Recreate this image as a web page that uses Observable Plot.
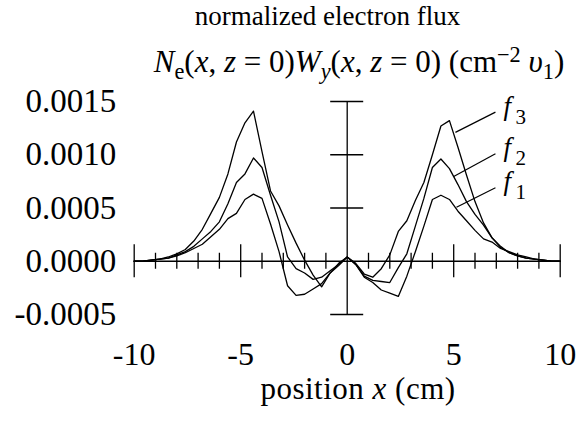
<!DOCTYPE html>
<html><head><meta charset="utf-8">
<script src="https://cdn.jsdelivr.net/npm/d3@7"></script>
<script src="https://cdn.jsdelivr.net/npm/@observablehq/plot@0.6"></script>
<style>
body{margin:0;background:#fff;}
#wrap{position:relative;width:578px;height:421px;font-family:"Liberation Serif","Times New Roman",serif;color:#000;}
#chart{position:absolute;left:0;top:0;}
.t{position:absolute;text-align:center;white-space:nowrap;line-height:1;}
.t sub{font-size:0.72em;vertical-align:baseline;position:relative;top:0.32em;}
.t sup{font-size:0.72em;vertical-align:baseline;position:relative;top:-0.45em;}
</style></head><body>
<div id="wrap">
<div id="chart"></div>
<div class="t" style="left:0;width:655px;top:3px;font-size:27px;">normalized electron flux</div>
<div class="t" style="left:0;width:718px;top:46px;font-size:31px;"><i>N</i><sub>e</sub>(<i>x</i>, <i>z</i> = 0)<i>W</i><sub><i>y</i></sub>(<i>x</i>, <i>z</i> = 0) (cm<sup>−2</sup> <i>υ</i><sub>1</sub>)</div>
<div class="t" style="left:0;width:716px;top:373px;font-size:31px;letter-spacing:0.5px;">position <i>x</i> (cm)</div>
</div>
<script>
// positions along x (cm)
const xs = [-10,-9.6,-9.2,-8.8,-8.4,-8.0,-7.6,-7.2,-6.8,-6.4,-6.0,-5.6,-5.2,-4.8,-4.4,-4.0,-3.6,-3.2,-2.8,-2.4,-2.0,-1.6,-1.2,-0.8,-0.4,0,0.4,0.8,1.2,1.6,2.0,2.4,2.8,3.2,3.6,4.0,4.4,4.8,5.2,5.6,6.0,6.4,6.8,7.2,7.6,8.0,8.4,8.8,9.2,9.6,10];
const f3 = [0,0,0.00001,0.00002,0.00004,0.00007,0.00011,0.00019,0.00030,0.00045,0.00060,0.00082,0.00112,0.00130,0.00141,0.00103,0.00066,0.00052,0.00034,0.00017,0.00001,-0.00013,-0.00024,-0.00011,-0.00002,0.00004,-0.00002,-0.00012,-0.00015,-0.00007,0.00006,0.00028,0.00038,0.00057,0.00074,0.00100,0.00127,0.00132,0.00107,0.00081,0.00056,0.00036,0.00022,0.00013,0.00008,0.00005,0.00003,0.00002,0.00001,0,0];
const f2 = [0,0,0.00001,0.00002,0.00003,0.00006,0.00009,0.00014,0.00021,0.00028,0.00037,0.00054,0.00074,0.00082,0.00097,0.00088,0.00062,0.00037,0.00004,-0.00007,-0.00011,-0.00017,-0.00015,-0.00009,-0.00003,0.00004,-0.00003,-0.00014,-0.00018,-0.00019,-0.00020,-0.00006,0.00007,0.00033,0.00059,0.00088,0.00096,0.00087,0.00072,0.00056,0.00044,0.00034,0.00022,0.00014,0.00008,0.00005,0.00003,0.00002,0.00001,0,0];
const f1 = [0,0,0.00001,0.00002,0.00003,0.00005,0.00008,0.00012,0.00016,0.00023,0.00030,0.00040,0.00045,0.00058,0.00063,0.00059,0.00035,0.00009,-0.00023,-0.00032,-0.00031,-0.00026,-0.00021,-0.00011,-0.00004,0.00004,-0.00003,-0.00015,-0.00020,-0.00027,-0.00030,-0.00033,-0.00014,0.00009,0.00033,0.00058,0.00062,0.00058,0.00047,0.00038,0.00029,0.00021,0.00018,0.00012,0.00009,0.00006,0.00004,0.00002,0.00001,0,0];

const xTickValues = [-10,-5,0,5,10];
const xTickLabels = ["-10","-5","0","5","10"];
const xMinorTicks = [-9,-8,-7,-6,-4,-3,-2,-1,1,2,3,4,6,7,8,9];
const xMajorTicks = [-10,-5,5,10];
const yTickValues = [0.0015,0.0010,0.0005,0.0000,-0.0005];
const yTickLabels = ["0.0015","0.0010","0.0005","0.0000","-0.0005"];
const yAxisTicks = [0.0015,0.0010,0.0005,-0.0005];

// curve labels and leader lines
const labelNames = ["3","2","1"];
const leaderStartX = [5.08,5.0,5.13];
const leaderStartY = [0.00121,0.000795,0.000507];
const leaderEndX = [6.96,6.96,6.96];
const leaderEndY = [0.00140,0.00101,0.00069];

const rows = [];
[["f1",f1],["f2",f2],["f3",f3]].forEach(([name, arr]) => arr.forEach((v,i) => rows.push({series:name, x:xs[i], y:v})));
const leaders = labelNames.map((n,i)=>({n, x1:leaderStartX[i], y1:leaderStartY[i], x2:leaderEndX[i], y2:leaderEndY[i]}));

const W=578,H=421,mL=133.7,mR=18.3,mT=101,mB=107;
const ypp = 0.002/(H-mT-mB);   // data units per pixel (y)
const xpp = 20/(W-mL-mR);      // data units per pixel (x)
const font = '"Liberation Serif","Times New Roman",serif';

const plot = Plot.plot({
  width:W, height:H, marginLeft:mL, marginRight:mR, marginTop:mT, marginBottom:mB,
  x:{domain:[-10,10], axis:null},
  y:{domain:[-0.0005,0.0015], axis:null},
  style:{fontFamily:font, fontSize:"26px", background:"transparent", color:"black", overflow:"visible"},
  marks:[
    Plot.ruleY([0], {x1:-10, x2:10, stroke:"black", strokeWidth:1.3}),
    Plot.ruleX([0], {y1:-0.0005, y2:0.0015, stroke:"black", strokeWidth:1.3}),
    Plot.ruleX(xMinorTicks, {x:d=>d, y1:-8*ypp, y2:8*ypp, stroke:"black", strokeWidth:1.3}),
    Plot.ruleX(xMajorTicks, {x:d=>d, y1:-16.5*ypp, y2:16.5*ypp, stroke:"black", strokeWidth:1.3}),
    Plot.ruleY(yAxisTicks, {y:d=>d, x1:-16.5*xpp, x2:16.5*xpp, stroke:"black", strokeWidth:1.3}),
    Plot.line(rows, {x:"x", y:"y", z:"series", stroke:"black", strokeWidth:1.3}),
    Plot.link(leaders, {x1:"x1", y1:"y1", x2:"x2", y2:"y2", stroke:"black", strokeWidth:1.2}),
    Plot.text(leaders, {x:"x2", y:"y2", text:()=>"f", fontStyle:"italic", textAnchor:"start", dx:8, dy:-6, fontSize:27}),
    Plot.text(leaders, {x:"x2", y:"y2", text:"n", textAnchor:"start", dx:20, dy:5, fontSize:21}),
    Plot.text(yTickValues, {x:-10, y:d=>d, text:(d,i)=>yTickLabels[i], textAnchor:"end", dx:-18, fontSize:33}),
    Plot.text(xTickValues, {x:d=>d, y:-0.0005, text:(d,i)=>xTickLabels[i], dy:40, fontSize:32})
  ]
});
document.getElementById("chart").appendChild(plot);
</script>
</body></html>
